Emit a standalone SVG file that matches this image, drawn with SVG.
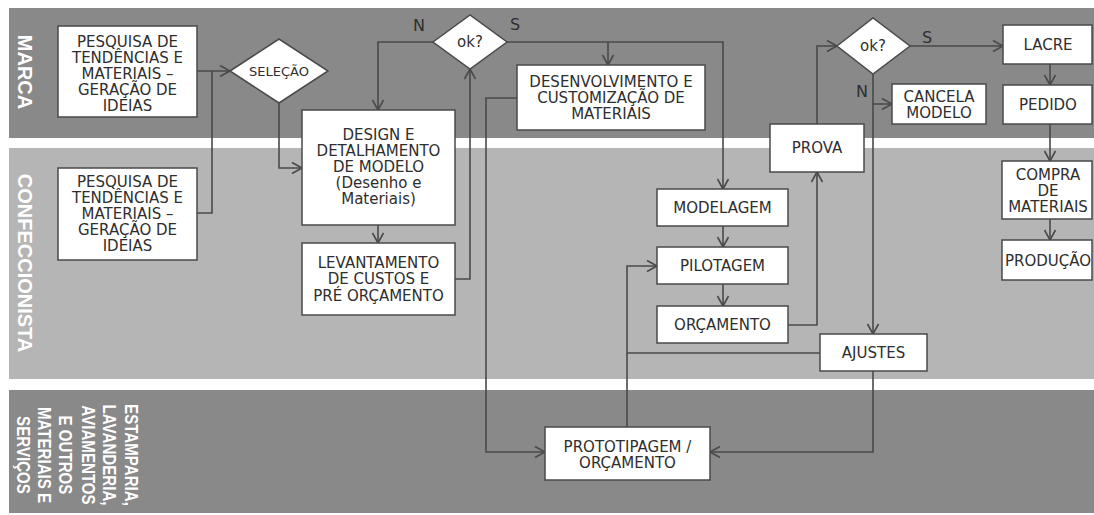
<svg xmlns="http://www.w3.org/2000/svg" width="1094" height="515" viewBox="0 0 1094 515">
<defs>
<style>
.lane-dark{fill:#898989}
.lane-light{fill:#b5b5b5}
.lbl{font-family:"Liberation Sans",Arial,sans-serif;font-weight:bold;font-size:20px;fill:#ffffff;text-anchor:middle}
.lbl2{font-family:"Liberation Sans",Arial,sans-serif;font-weight:bold;font-size:18px;fill:#ffffff;text-anchor:middle}
.box{fill:#ffffff;stroke:#4a4a4a;stroke-width:1.5}
.t{font-family:"DejaVu Sans",Verdana,sans-serif;font-size:15px;fill:#2e2e2e;text-anchor:middle}
.ts{font-family:"DejaVu Sans",Verdana,sans-serif;font-size:13px;fill:#2e2e2e;text-anchor:middle}
.yn{font-family:"DejaVu Sans",Verdana,sans-serif;font-size:16px;fill:#2e2e2e;text-anchor:middle}
.c{fill:none;stroke:#4a4a4a;stroke-width:1.6}
.ca{fill:none;stroke:#4a4a4a;stroke-width:1.6;marker-end:url(#arr)}
</style>
<marker id="arr" markerUnits="userSpaceOnUse" markerWidth="14" markerHeight="14" viewBox="0 0 14 14" refX="12" refY="7" orient="auto">
<path d="M2,1.5 L12,7 L2,12.5" fill="none" stroke="#4a4a4a" stroke-width="1.6"/>
</marker>
</defs>
<rect width="1094" height="515" fill="#ffffff"/>
<g id="lanes">
<rect class="lane-dark" x="9" y="8" width="1085" height="130"/>
<rect class="lane-light" x="9" y="148" width="1085" height="231"/>
<rect class="lane-dark" x="9" y="390" width="1085" height="123"/>
<text class="lbl" transform="translate(18,72) rotate(90)">MARCA</text>
<text class="lbl" transform="translate(18,263) rotate(90)" fill="#f2f2f2">CONFECCIONISTA</text>
<text class="lbl2" transform="translate(125,455) rotate(90) scale(0.84,1)">ESTAMPARIA,</text>
<text class="lbl2" transform="translate(103,455) rotate(90) scale(0.84,1)">LAVANDERIA,</text>
<text class="lbl2" transform="translate(82,455) rotate(90) scale(0.84,1)">AVIAMENTOS</text>
<text class="lbl2" transform="translate(59,455) rotate(90) scale(0.84,1)">E OUTROS</text>
<text class="lbl2" transform="translate(38,455) rotate(90) scale(0.84,1)">MATERIAIS E</text>
<text class="lbl2" transform="translate(17,455) rotate(90) scale(0.84,1)">SERVIÇOS</text>
</g>
<g id="connectors">
<path class="ca" d="M197,71 H230"/>
<path class="c" d="M197,213 H212 V71"/>
<path class="ca" d="M279,103 V168 H302"/>
<path class="ca" d="M378,225 V243"/>
<path class="ca" d="M455,279 H470 V69"/>
<path class="ca" d="M433,42 H378 V110"/>
<path class="ca" d="M507,42 H723 V189"/>
<path class="ca" d="M608,42 V65"/>
<path class="ca" d="M517,98 H486 V452 H545"/>
<path class="ca" d="M723,226 V247"/>
<path class="ca" d="M723,284 V306"/>
<path class="ca" d="M788,325 H817 V172"/>
<path class="ca" d="M817,124 V46 H837"/>
<path class="ca" d="M910,46 H1003"/>
<path class="ca" d="M873,74 V334"/>
<path class="ca" d="M873,104 H892"/>
<path class="ca" d="M1050,64 V85"/>
<path class="ca" d="M1050,124 V161"/>
<path class="ca" d="M1050,219 V240"/>
<path class="ca" d="M627,427 V266 H657"/>
<path class="c" d="M820,353 H627"/>
<path class="ca" d="M873,371 V452 H710"/>
<text class="yn" x="419" y="31">N</text>
<text class="yn" x="515" y="30">S</text>
<text class="yn" x="927" y="43">S</text>
<text class="yn" x="862" y="97">N</text>
</g>
<g id="pesquisa1">
<rect class="box" x="58" y="26" width="139" height="91"/>
<text class="t" x="127.5" y="47">PESQUISA DE</text>
<text class="t" x="127.5" y="63">TENDÊNCIAS E</text>
<text class="t" x="127.5" y="79">MATERIAIS –</text>
<text class="t" x="127.5" y="95">GERAÇÃO DE</text>
<text class="t" x="127.5" y="111">IDEIAS</text>
</g>
<g id="pesquisa2">
<rect class="box" x="58" y="168" width="139" height="92"/>
<text class="t" x="127.5" y="187">PESQUISA DE</text>
<text class="t" x="127.5" y="203">TENDÊNCIAS E</text>
<text class="t" x="127.5" y="219">MATERIAIS –</text>
<text class="t" x="127.5" y="235">GERAÇÃO DE</text>
<text class="t" x="127.5" y="251">IDEIAS</text>
</g>
<g id="selecao">
<polygon class="box" points="230,71 279,39 328,71 279,103"/>
<text class="ts" x="279" y="76">SELEÇÃO</text>
</g>
<g id="design">
<rect class="box" x="302" y="110" width="153" height="115"/>
<text class="t" x="378.5" y="140">DESIGN E</text>
<text class="t" x="378.5" y="156">DETALHAMENTO</text>
<text class="t" x="378.5" y="172">DE MODELO</text>
<text class="t" x="378.5" y="188">(Desenho e</text>
<text class="t" x="378.5" y="204">Materiais)</text>
</g>
<g id="levantamento">
<rect class="box" x="302" y="243" width="153" height="72"/>
<text class="t" x="378.5" y="268">LEVANTAMENTO</text>
<text class="t" x="378.5" y="284">DE CUSTOS E</text>
<text class="t" x="378.5" y="301">PRÉ ORÇAMENTO</text>
</g>
<g id="ok1">
<polygon class="box" points="433,42 470,15 507,42 470,69"/>
<text class="t" x="470" y="47">ok?</text>
</g>
<g id="desenvolvimento">
<rect class="box" x="517" y="65" width="188" height="65"/>
<text class="t" x="611" y="87">DESENVOLVIMENTO E</text>
<text class="t" x="611" y="103">CUSTOMIZAÇÃO DE</text>
<text class="t" x="611" y="119">MATERIAIS</text>
</g>
<g id="modelagem">
<rect class="box" x="657" y="189" width="131" height="37"/>
<text class="t" x="722.5" y="213">MODELAGEM</text>
</g>
<g id="pilotagem">
<rect class="box" x="657" y="247" width="131" height="37"/>
<text class="t" x="722.5" y="271">PILOTAGEM</text>
</g>
<g id="orcamento">
<rect class="box" x="657" y="306" width="131" height="37"/>
<text class="t" x="722.5" y="330">ORÇAMENTO</text>
</g>
<g id="prova">
<rect class="box" x="770" y="124" width="94" height="48"/>
<text class="t" x="817" y="153">PROVA</text>
</g>
<g id="ok2">
<polygon class="box" points="837,46 873,18 910,46 873,74"/>
<text class="t" x="873" y="51">ok?</text>
</g>
<g id="cancela">
<rect class="box" x="892" y="84" width="94" height="40"/>
<text class="t" x="939" y="102">CANCELA</text>
<text class="t" x="939" y="118">MODELO</text>
</g>
<g id="lacre">
<rect class="box" x="1003" y="25" width="89" height="39"/>
<text class="t" x="1048" y="50">LACRE</text>
</g>
<g id="pedido">
<rect class="box" x="1003" y="85" width="89" height="39"/>
<text class="t" x="1048" y="110">PEDIDO</text>
</g>
<g id="compra">
<rect class="box" x="1002" y="161" width="90" height="58"/>
<text class="t" x="1048" y="180">COMPRA</text>
<text class="t" x="1048" y="196">DE</text>
<text class="t" x="1048" y="212">MATERIAIS</text>
</g>
<g id="producao">
<rect class="box" x="1002" y="240" width="90" height="40"/>
<text class="t" x="1048" y="266">PRODUÇÃO</text>
</g>
<g id="ajustes">
<rect class="box" x="820" y="334" width="107" height="37"/>
<text class="t" x="873.5" y="358">AJUSTES</text>
</g>
<g id="prototipagem">
<rect class="box" x="545" y="427" width="165" height="53"/>
<text class="t" x="627.5" y="452">PROTOTIPAGEM /</text>
<text class="t" x="627.5" y="468">ORÇAMENTO</text>
</g>
</svg>
